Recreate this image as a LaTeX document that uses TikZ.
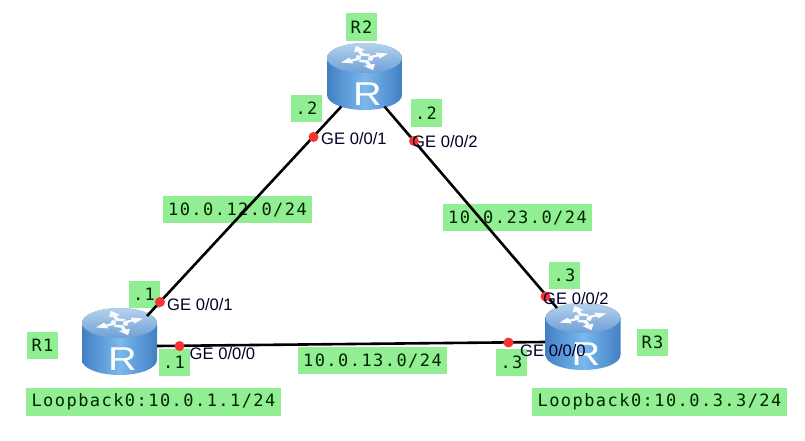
\documentclass[tikz,border=0pt]{standalone}
\usepackage{fontspec}
\setmainfont{Liberation Sans}
\newfontfamily\lblfont[LetterSpace=8.5]{DejaVu Sans Mono}
\usetikzlibrary{calc}
\definecolor{lblgreen}{RGB}{146,238,146}
\definecolor{rtop}{RGB}{150,190,228}
\definecolor{rtoptwo}{RGB}{110,160,214}
\definecolor{rside}{RGB}{90,160,226}
\definecolor{rsidedark}{RGB}{66,128,196}
\definecolor{rsidelight}{RGB}{122,184,238}
\definecolor{portred}{RGB}{250,50,50}
\tikzset{
  lbl/.style={fill=lblgreen,inner sep=0pt,minimum height=27.5pt,text=black!85!green,font=\fontsize{17}{17}\selectfont\lblfont},
  small/.style={lbl,minimum width=31pt},
  wide/.style={lbl,minimum width=149pt},
  loop/.style={lbl,minimum width=255pt},
  link/.style={line width=2.6pt,black},
  port/.style={circle,fill=portred,inner sep=0pt,minimum size=10pt},
  gelabel/.style={inner sep=0pt,anchor=west,text=black!85!blue,font=\fontsize{16.6}{16}\selectfont},
  routerbox/.style={inner sep=0pt,minimum width=75pt,minimum height=67pt},
  rarrow/.style={fill=white,draw=none,opacity=.95}
}
\newcommand{\routerart}[1]{%
  \begin{scope}[shift={(#1)}]
    \path[left color=rsidedark,right color=rsidedark,middle color=rsidelight]
      (-37.5,-18.5) -- (-37.5,18.5) arc[start angle=180,end angle=0,x radius=37.5,y radius=15]
      -- (37.5,-18.5) arc[start angle=0,end angle=-180,x radius=37.5,y radius=15] -- cycle;
    \path[top color=rtop!70!white,bottom color=rtoptwo] (0,-18.5) ellipse[x radius=37.5,y radius=15];
    \foreach \a in {20,110,200,290}{
      \begin{scope}[shift={(0,-18.5)},yscale=.52,rotate=\a]
        \fill[rarrow] (5,-2) -- (14,-2) -- (14,-6) -- (25,0) -- (14,6) -- (14,2) -- (9,2) -- (5,8) -- (2,5) -- cycle;
      \end{scope}}
    \node[inner sep=0pt,text=white,font=\fontsize{33}{33}\selectfont,xscale=1.2] at (3,18) {R};
  \end{scope}}
\begin{document}
\begin{tikzpicture}[x=1pt,y=-1pt]
\useasboundingbox (0,0) rectangle (805,441);
% labels
\node[small] (lr2) at (361.5,27) {R2};
\node[small] (l2a) at (306.5,108.5) {.2};
\node[small] (l2b) at (426,113) {.2};
\node[small] (l1a) at (144,294.5) {.1};
\node[small] (l1b) at (174,362.5) {.1};
\node[small] (lr1) at (42.5,345.5) {R1};
\node[loop] (lo1) at (153.5,402) {Loopback0:10.0.1.1/24};
\node[small] (l3a) at (564.5,275.5) {.3};
\node[small] (l3b) at (511.5,362.5) {.3};
\node[small] (lr3) at (652.5,342.5) {R3};
\node[loop] (lo3) at (659.5,402) {Loopback0:10.0.3.3/24};
\node[wide] (n12) at (237.5,209.5) {10.0.12.0/24};
\node[wide] (n23) at (517.5,217.5) {10.0.23.0/24};
\node[wide] (n13) at (372.5,360.5) {10.0.13.0/24};
% routers
\node[routerbox] (r1) at (119.5,341.5) {};
\node[routerbox] (r2) at (364.5,76.5) {};
\node[routerbox] (r3) at (583,336.5) {};
% connector ends
\coordinate (a1) at ($(r1)+(27.5,-25.5)$);
\coordinate (a2) at ($(r2)+(-23.2,30)$);
\coordinate (b2) at ($(r2)+(20,30)$);
\coordinate (b3) at ($(r3)+(-26,-28.5)$);
\coordinate (c1) at ($(r1)+(37.5,4.5)$);
\coordinate (c3) at ($(r3)+(-38,5.5)$);
\routerart{r1}
\routerart{r2}
\routerart{r3}
\draw[link] (a1) -- (a2);
\draw[link] (b2) -- (b3);
\draw[link] (c1) -- (c3);
% ports
\node[port] (p1a) at (160,302) {};
\node[port] (p1b) at (179.5,346) {};
\node[port] (p2a) at (313.5,137) {};
\node[port] (p2b) at (414,141) {};
\node[port] (p3a) at (545.5,296.5) {};
\node[port] (p3b) at (508.5,342.5) {};
\node[gelabel] (g1a) at (167,304.5) {GE 0/0/1};
\node[gelabel] (g1b) at (189.5,353.5) {GE 0/0/0};
\node[gelabel] (g2a) at (321,138.5) {GE 0/0/1};
\node[gelabel] (g2b) at (412,142) {GE 0/0/2};
\node[gelabel] (g3a) at (543,298.5) {GE 0/0/2};
\node[gelabel] (g3b) at (520,350.5) {GE 0/0/0};
\end{tikzpicture}
\end{document}
